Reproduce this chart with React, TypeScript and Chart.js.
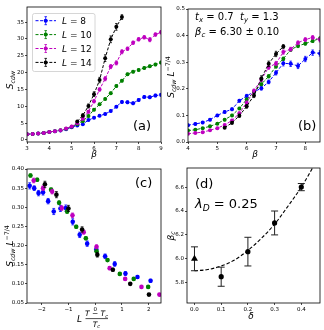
import React, { useEffect, useRef } from "react";
import { Chart, registerables } from "chart.js";
Chart.register(...registerables);

const W = 324;
const H = 330;
const FF = '"DejaVu Sans", "Liberation Sans", sans-serif';

const C_BLUE = "#0000ff";
const C_GREEN = "#008000";
const C_MAG = "#bf00bf";
const C_BLACK = "#000000";

// ---------- panel (a): S_cdw vs beta ----------
const BETA = [3, 3.25, 3.5, 3.75, 4, 4.25, 4.5, 4.75, 5, 5.25, 5.5, 5.75, 6, 6.25, 6.5, 6.75, 7, 7.25, 7.5, 7.75, 8, 8.25, 8.5, 8.75, 9];
const S_L8 = [1.7, 1.8, 1.95, 2.1, 2.4, 2.6, 2.8, 3.2, 3.8, 4.3, 4.7, 5.9, 6.6, 7.2, 7.7, 8.6, 9.9, 11.3, 11.2, 10.9, 11.9, 12.8, 12.7, 13.2, 13.4];
const E_L8 = [0.1, 0.1, 0.1, 0.1, 0.1, 0.1, 0.1, 0.15, 0.15, 0.2, 0.2, 0.2, 0.25, 0.25, 0.3, 0.3, 0.3, 0.4, 0.4, 0.4, 0.4, 0.4, 0.4, 0.4, 0.4];
const S_L10 = [1.7, 1.8, 1.95, 2.1, 2.4, 2.6, 2.9, 3.3, 3.9, 4.7, 5.6, 7.1, 9.0, 10.6, 12.2, 13.9, 16.0, 17.6, 19.5, 20.3, 20.8, 21.4, 21.9, 22.4, 23.0];
const E_L10 = [0.1, 0.1, 0.1, 0.1, 0.1, 0.1, 0.1, 0.15, 0.15, 0.2, 0.2, 0.25, 0.3, 0.3, 0.3, 0.35, 0.35, 0.35, 0.35, 0.35, 0.35, 0.35, 0.35, 0.35, 0.35];
const S_L12 = [1.7, 1.8, 1.95, 2.1, 2.4, 2.6, 2.9, 3.4, 4.0, 5.0, 6.3, 8.4, 11.5, 15.0, 18.2, 21.8, 22.9, 26.2, 27.1, 28.9, 29.9, 30.5, 29.8, 31.3, 32.0];
const E_L12 = [0.1, 0.1, 0.1, 0.1, 0.1, 0.1, 0.1, 0.15, 0.2, 0.25, 0.3, 0.4, 0.5, 0.5, 0.6, 0.6, 0.6, 0.6, 0.5, 0.5, 0.5, 0.5, 0.6, 0.5, 0.5];
const BETA_L14 = [5.25, 5.5, 5.75, 6, 6.25, 6.5, 6.75, 7, 7.25];
const S_L14 = [5.5, 7.3, 10.1, 13.6, 17.8, 24.3, 29.9, 33.6, 36.5];
const E_L14 = [0.3, 0.5, 0.6, 0.7, 0.8, 1.0, 1.0, 1.0, 0.7];

// ---------- panel (b): S_cdw L^{-7/4} vs beta ----------
const BETA_B = [4, 4.25, 4.5, 4.75, 5, 5.25, 5.5, 5.75, 6, 6.25, 6.5, 6.75, 7, 7.25, 7.5, 7.75, 8, 8.25, 8.5, 8.75];
const B_L8 = [0.063, 0.068, 0.073, 0.084, 0.1, 0.113, 0.123, 0.155, 0.173, 0.189, 0.202, 0.226, 0.26, 0.296, 0.294, 0.286, 0.312, 0.336, 0.333, 0.346];
const BE_L8 = [0.004, 0.004, 0.004, 0.004, 0.004, 0.005, 0.005, 0.005, 0.006, 0.006, 0.007, 0.007, 0.008, 0.01, 0.01, 0.01, 0.01, 0.01, 0.01, 0.01];
const B_L10 = [0.043, 0.046, 0.052, 0.059, 0.069, 0.084, 0.1, 0.126, 0.16, 0.188, 0.217, 0.247, 0.284, 0.313, 0.347, 0.361, 0.37, 0.38, 0.389, 0.398];
const BE_L10 = [0.002, 0.002, 0.002, 0.003, 0.003, 0.004, 0.004, 0.004, 0.005, 0.005, 0.005, 0.006, 0.006, 0.006, 0.006, 0.006, 0.006, 0.006, 0.006, 0.006];
const B_L12 = [0.031, 0.034, 0.037, 0.044, 0.052, 0.064, 0.081, 0.108, 0.148, 0.193, 0.235, 0.281, 0.295, 0.338, 0.349, 0.373, 0.385, 0.393, 0.384, 0.403];
const BE_L12 = [0.002, 0.002, 0.002, 0.002, 0.003, 0.003, 0.004, 0.005, 0.006, 0.006, 0.008, 0.008, 0.008, 0.008, 0.007, 0.007, 0.007, 0.007, 0.008, 0.007];
const B_L14 = [0.054, 0.072, 0.099, 0.134, 0.175, 0.239, 0.294, 0.331, 0.359];
const BE_L14 = [0.003, 0.005, 0.006, 0.007, 0.008, 0.01, 0.01, 0.01, 0.007];

// ---------- panel (c): scaling collapse ----------
const CX_L8 = [-2.45, -2.28, -2.12, -1.95, -1.76, -1.55, -1.3, -1.1, -0.84, -0.58, -0.3, 0.04, 0.37, 0.73, 1.13, 1.58, 2.07];
const CY_L8 = [0.356, 0.35, 0.337, 0.339, 0.316, 0.289, 0.297, 0.298, 0.262, 0.228, 0.205, 0.19, 0.172, 0.152, 0.127, 0.118, 0.108];
const CE_L8 = [0.008, 0.006, 0.007, 0.007, 0.007, 0.008, 0.008, 0.008, 0.008, 0.007, 0.007, 0.006, 0.006, 0.006, 0.005, 0.004, 0.004];
const CX_L10 = [-2.42, -2.17, -1.65, -1.35, -1.05, -0.71, -0.35, 0.05, 0.46, 0.92, 1.44, 1.98];
const CY_L10 = [0.383, 0.372, 0.346, 0.312, 0.289, 0.249, 0.219, 0.185, 0.162, 0.126, 0.113, 0.092];
const CE_L10 = [0.004, 0.004, 0.004, 0.005, 0.005, 0.004, 0.004, 0.004, 0.003, 0.003, 0.003, 0.003];
const CX_L12 = [-2.3, -1.95, -1.61, -1.25, -0.85, -0.43, 0.05, 0.54, 1.12, 1.73, 2.4];
const CY_L12 = [0.37, 0.35, 0.341, 0.298, 0.279, 0.235, 0.197, 0.141, 0.113, 0.092, 0.072];
const CE_L12 = [0.006, 0.006, 0.006, 0.006, 0.006, 0.005, 0.005, 0.004, 0.003, 0.003, 0.003];
const CX_L14 = [-1.88, -1.45, -1.0, -0.49, 0.08, 0.66, 1.31, 2.01];
const CY_L14 = [0.36, 0.333, 0.297, 0.242, 0.176, 0.137, 0.1, 0.072];
const CE_L14 = [0.008, 0.008, 0.008, 0.007, 0.006, 0.004, 0.003, 0.003];

// ---------- panel (d): beta_c vs delta ----------
const D_DELTA = [0.1, 0.2, 0.3, 0.4];
const D_BETAC = [5.85, 6.06, 6.3, 6.6];
const D_ERR = [0.08, 0.12, 0.1, 0.03];
const D0_DELTA = [0.0];
const D0_BETAC = [6.0];
const D0_ERR = [0.1];
const FIT_DELTA = [0, 0.05, 0.1, 0.15, 0.2, 0.25, 0.3, 0.35, 0.4, 0.45];
const FIT_BETAC = [5.9, 5.91, 5.94, 5.99, 6.07, 6.17, 6.29, 6.44, 6.6, 6.79];

// ---------- ticks ----------
const A_XTICKS = [3, 4, 5, 6, 7, 8, 9];
const A_YTICKS = [0, 5, 10, 15, 20, 25, 30, 35];
const B_XTICKS = [4, 5, 6, 7, 8];
const B_YTICKS = [0, 0.1, 0.2, 0.3, 0.4, 0.5];
const C_XTICKS = [-2, -1, 0, 1, 2];
const C_YTICKS = [0.05, 0.1, 0.15, 0.2, 0.25, 0.3, 0.35, 0.4];
const D_XTICKS = [0, 0.1, 0.2, 0.3, 0.4];
const D_YTICKS = [5.8, 6.0, 6.2, 6.4, 6.6];

const LEGEND_L = ["8", "10", "12", "14"];
const LEGEND_COLORS = [C_BLUE, C_GREEN, C_MAG, C_BLACK];

type Box = { l: number; t: number; r: number; b: number };
type Seg = { t: string; it?: boolean; sub?: boolean; sup?: boolean };

const minusFmt = (s: string) => s.replace("-", "\u2212");

function segFont(s: Seg, size: number) {
  const fs = s.sub || s.sup ? size * 0.7 : size;
  return `${s.it ? "italic " : ""}${fs}px ${FF}`;
}
function richW(ctx: CanvasRenderingContext2D, segs: Seg[], size: number) {
  let w = 0;
  for (const s of segs) {
    ctx.font = segFont(s, size);
    w += ctx.measureText(s.t).width;
  }
  return w;
}
function drawRich(ctx: CanvasRenderingContext2D, segs: Seg[], x: number, y: number, size: number, align: "left" | "center" = "left") {
  let cx = align === "center" ? x - richW(ctx, segs, size) / 2 : x;
  ctx.textAlign = "left";
  ctx.textBaseline = "alphabetic";
  ctx.fillStyle = "#000";
  for (const s of segs) {
    ctx.font = segFont(s, size);
    const dy = s.sub ? size * 0.22 : s.sup ? -size * 0.42 : 0;
    ctx.fillText(s.t, cx, y + dy);
    cx += ctx.measureText(s.t).width;
  }
}
function drawRotated(ctx: CanvasRenderingContext2D, segs: Seg[], x: number, y: number, size: number) {
  ctx.save();
  ctx.translate(x, y);
  ctx.rotate(-Math.PI / 2);
  drawRich(ctx, segs, 0, 0, size, "center");
  ctx.restore();
}
function drawFrame(chart: any) {
  const a = chart.chartArea;
  const ctx = chart.ctx;
  ctx.save();
  ctx.strokeStyle = "#000";
  ctx.lineWidth = 0.8;
  ctx.strokeRect(a.left, a.top, a.right - a.left, a.bottom - a.top);
  ctx.restore();
}

const errPlugin = {
  id: "errbars",
  beforeDatasetDraw(chart: any, args: any) {
    const ds = chart.data.datasets[args.index] as any;
    if (!ds.errY) return;
    const meta = args.meta;
    const ys = chart.scales.y;
    const ctx = chart.ctx;
    const a = chart.chartArea;
    ctx.save();
    ctx.beginPath();
    ctx.rect(a.left, a.top, a.right - a.left, a.bottom - a.top);
    ctx.clip();
    ctx.strokeStyle = ds.errColor || ds.borderColor;
    ctx.lineWidth = ds.errWidth || 0.8;
    const cap = ds.capHalf ?? 1.3;
    meta.data.forEach((el: any, j: number) => {
      const e = ds.errY[j];
      if (!e) return;
      const v = ds.data[j].y;
      const x = el.x;
      const y1 = ys.getPixelForValue(v - e);
      const y2 = ys.getPixelForValue(v + e);
      ctx.beginPath();
      ctx.moveTo(x, y1);
      ctx.lineTo(x, y2);
      ctx.moveTo(x - cap, y1);
      ctx.lineTo(x + cap, y1);
      ctx.moveTo(x - cap, y2);
      ctx.lineTo(x + cap, y2);
      ctx.stroke();
    });
    ctx.restore();
  },
};

function axis(min: number, max: number, ticks: number[], fmt: (v: number) => string, horizontal: boolean, box: Box) {
  return {
    type: "linear",
    position: horizontal ? "bottom" : "left",
    min,
    max,
    afterBuildTicks: (s: any) => {
      s.ticks = ticks.map((v) => ({ value: v }));
    },
    afterFit: (s: any) => {
      if (horizontal) s.height = H - box.b;
      else s.width = box.l;
    },
    ticks: {
      autoSkip: false,
      maxRotation: 0,
      minRotation: 0,
      padding: 1,
      color: "#000",
      font: { family: FF, size: 5.5 },
      callback: (v: any) => fmt(Number(v)),
    },
    grid: { display: true, drawOnChartArea: false, drawTicks: true, tickLength: 2, color: "#000", lineWidth: 0.7 },
    border: { display: false },
    title: { display: false },
  };
}

function pts(xs: number[], ys: number[]) {
  return xs.map((x, i) => ({ x, y: ys[i] }));
}

function lineDs(xs: number[], ys: number[], errs: number[], color: string, order: number) {
  return {
    type: "line",
    data: pts(xs, ys),
    errY: errs,
    borderColor: color,
    backgroundColor: color,
    borderWidth: 1,
    borderDash: [3, 1.6],
    pointRadius: 2,
    pointBorderWidth: 0,
    pointBackgroundColor: color,
    tension: 0,
    order,
    capHalf: 1.2,
    errWidth: 0.8,
  };
}
function dotDs(xs: number[], ys: number[], errs: number[], color: string, order: number) {
  return {
    type: "scatter",
    data: pts(xs, ys),
    errY: errs,
    borderColor: color,
    backgroundColor: color,
    pointRadius: 2.3,
    pointBorderWidth: 0,
    showLine: false,
    order,
    capHalf: 1.4,
    errWidth: 0.8,
  };
}

function makeChart(canvas: HTMLCanvasElement, box: Box, xs: any, ys: any, datasets: any[], extra: (chart: any) => void) {
  return new Chart(canvas, {
    type: "line",
    data: { datasets },
    options: {
      animation: false,
      responsive: false,
      devicePixelRatio: 1,
      layout: { padding: { left: 0, top: box.t, right: W - box.r, bottom: 0 } },
      scales: { x: xs, y: ys },
      plugins: { legend: { display: false }, tooltip: { enabled: false } },
    } as any,
    plugins: [
      errPlugin as any,
      {
        id: "extra",
        afterDraw(chart: any) {
          drawFrame(chart);
          extra(chart);
        },
      } as any,
    ],
  } as any);
}

const fmtInt = (v: number) => minusFmt(String(Math.round(v)));
const fmt1 = (v: number) => minusFmt(v.toFixed(1));
const fmt2 = (v: number) => v.toFixed(2);

const BOX_A: Box = { l: 27, t: 7, r: 161, b: 142 };
const BOX_B: Box = { l: 188, t: 9, r: 322, b: 142 };
const BOX_C: Box = { l: 27, t: 169, r: 161, b: 303 };
const BOX_D: Box = { l: 187, t: 168, r: 322, b: 303 };

const SCDW: Seg[] = [{ t: "S", it: true }, { t: "cdw", it: true, sub: true }];
const SCDW_L: Seg[] = [...SCDW, { t: " " }, { t: "L", it: true }, { t: "\u22127/4", sup: true }];

function buildA(canvas: HTMLCanvasElement) {
  const ds = [
    lineDs(BETA, S_L8, E_L8, C_BLUE, 4),
    lineDs(BETA, S_L10, E_L10, C_GREEN, 3),
    lineDs(BETA, S_L12, E_L12, C_MAG, 2),
    lineDs(BETA_L14, S_L14, E_L14, C_BLACK, 1),
  ];
  return makeChart(canvas, BOX_A, axis(3, 9, A_XTICKS, fmtInt, true, BOX_A), axis(-0.6, 39.5, A_YTICKS, fmtInt, false, BOX_A), ds, (chart) => {
    const ctx = chart.ctx as CanvasRenderingContext2D;
    ctx.save();
    // legend
    const lx = 32.5, ly = 13.5, lw = 62.5, lh = 58;
    ctx.beginPath();
    (ctx as any).roundRect(lx, ly, lw, lh, 2);
    ctx.fillStyle = "rgba(255,255,255,0.8)";
    ctx.fill();
    ctx.strokeStyle = "#cccccc";
    ctx.lineWidth = 0.8;
    ctx.stroke();
    LEGEND_L.forEach((lbl, i) => {
      const cy = 20.7 + i * 13.9;
      const col = LEGEND_COLORS[i];
      ctx.strokeStyle = col;
      ctx.fillStyle = col;
      ctx.lineWidth = 1;
      ctx.setLineDash([3, 1.6]);
      ctx.beginPath();
      ctx.moveTo(35.5, cy);
      ctx.lineTo(56, cy);
      ctx.stroke();
      ctx.setLineDash([]);
      ctx.lineWidth = 0.8;
      ctx.beginPath();
      ctx.moveTo(45.7, cy - 4);
      ctx.lineTo(45.7, cy + 4);
      ctx.moveTo(44.4, cy - 4);
      ctx.lineTo(47, cy - 4);
      ctx.moveTo(44.4, cy + 4);
      ctx.lineTo(47, cy + 4);
      ctx.stroke();
      ctx.beginPath();
      ctx.arc(45.7, cy, 2, 0, Math.PI * 2);
      ctx.fill();
      drawRich(ctx, [{ t: "L", it: true }, { t: " = " + lbl }], 62, cy + 3.3, 9);
    });
    drawRich(ctx, [{ t: "(a)" }], 133, 129.5, 13);
    drawRich(ctx, [{ t: "\u03B2", it: true }], 94, 157, 9, "center");
    drawRotated(ctx, SCDW, 13, 80, 9);
    ctx.restore();
  });
}

function buildB(canvas: HTMLCanvasElement) {
  const ds = [
    lineDs(BETA_B, B_L8, BE_L8, C_BLUE, 4),
    lineDs(BETA_B, B_L10, BE_L10, C_GREEN, 3),
    lineDs(BETA_B, B_L12, BE_L12, C_MAG, 2),
    lineDs(BETA_L14, B_L14, BE_L14, C_BLACK, 1),
  ];
  return makeChart(canvas, BOX_B, axis(4, 8.5, B_XTICKS, fmtInt, true, BOX_B), axis(0, 0.5, B_YTICKS, fmt1, false, BOX_B), ds, (chart) => {
    const ctx = chart.ctx as CanvasRenderingContext2D;
    ctx.save();
    drawRich(ctx, [{ t: "t", it: true }, { t: "x", it: true, sub: true }, { t: " = 0.7" }], 195, 20, 10);
    drawRich(ctx, [{ t: "t", it: true }, { t: "y", it: true, sub: true }, { t: " = 1.3" }], 240, 20, 10);
    drawRich(ctx, [{ t: "\u03B2", it: true }, { t: "c", it: true, sub: true }, { t: " = 6.30 \u00B1 0.10" }], 195, 35, 10);
    drawRich(ctx, [{ t: "(b)" }], 298, 129.5, 13);
    drawRich(ctx, [{ t: "\u03B2", it: true }], 255, 157, 9, "center");
    drawRotated(ctx, SCDW_L, 174, 77, 9);
    ctx.restore();
  });
}

function buildC(canvas: HTMLCanvasElement) {
  const ds = [
    dotDs(CX_L8, CY_L8, CE_L8, C_BLUE, 4),
    dotDs(CX_L10, CY_L10, CE_L10, C_GREEN, 3),
    dotDs(CX_L12, CY_L12, CE_L12, C_MAG, 2),
    dotDs(CX_L14, CY_L14, CE_L14, C_BLACK, 1),
  ];
  return makeChart(canvas, BOX_C, axis(-2.55, 2.46, C_XTICKS, fmtInt, true, BOX_C), axis(0.05, 0.4, C_YTICKS, fmt2, false, BOX_C), ds, (chart) => {
    const ctx = chart.ctx as CanvasRenderingContext2D;
    ctx.save();
    drawRich(ctx, [{ t: "(c)" }], 135, 186.5, 13);
    drawRotated(ctx, SCDW_L, 13, 246, 9);
    // x label: L (T - T_c)/T_c
    drawRich(ctx, [{ t: "L", it: true }], 77, 321.5, 9);
    drawRich(ctx, [{ t: "T", it: true }, { t: " \u2212 " }, { t: "T", it: true }, { t: "c", it: true, sub: true }], 96.5, 316.3, 7.5, "center");
    ctx.strokeStyle = "#000";
    ctx.lineWidth = 0.7;
    ctx.beginPath();
    ctx.moveTo(85.5, 318.6);
    ctx.lineTo(108, 318.6);
    ctx.stroke();
    drawRich(ctx, [{ t: "T", it: true }, { t: "c", it: true, sub: true }], 96.5, 326.5, 7.5, "center");
    ctx.restore();
  });
}

function buildD(canvas: HTMLCanvasElement) {
  const ds = [
    {
      type: "line",
      data: pts(FIT_DELTA, FIT_BETAC),
      borderColor: "#000",
      borderWidth: 1.1,
      borderDash: [3.5, 2],
      pointRadius: 0,
      cubicInterpolationMode: "monotone",
      order: 3,
    },
    {
      type: "scatter",
      data: pts(D_DELTA, D_BETAC),
      errY: D_ERR,
      errColor: "#222",
      errWidth: 1,
      capHalf: 3.5,
      backgroundColor: "#000",
      borderColor: "#000",
      pointRadius: 2.6,
      pointBorderWidth: 0,
      showLine: false,
      order: 2,
    },
    {
      type: "scatter",
      data: pts(D0_DELTA, D0_BETAC),
      errY: D0_ERR,
      errColor: "#222",
      errWidth: 1,
      capHalf: 3.5,
      backgroundColor: "#000",
      borderColor: "#000",
      pointStyle: "triangle",
      pointRadius: 4,
      pointBorderWidth: 0,
      showLine: false,
      order: 1,
    },
  ];
  return makeChart(canvas, BOX_D, axis(-0.028, 0.47, D_XTICKS, fmt1, true, BOX_D), axis(5.63, 6.76, D_YTICKS, fmt1, false, BOX_D), ds, (chart) => {
    const ctx = chart.ctx as CanvasRenderingContext2D;
    ctx.save();
    drawRich(ctx, [{ t: "(d)" }], 195, 188, 13);
    drawRich(ctx, [{ t: "\u03BB", it: true }, { t: "D", it: true, sub: true }, { t: " = 0.25" }], 195, 208, 13);
    drawRich(ctx, [{ t: "\u03B4", it: true }], 251, 318.5, 9, "center");
    drawRotated(ctx, [{ t: "\u03B2", it: true }, { t: "c", it: true, sub: true }], 173.5, 236, 9);
    ctx.restore();
  });
}

export default function App() {
  const refA = useRef<HTMLCanvasElement>(null);
  const refB = useRef<HTMLCanvasElement>(null);
  const refC = useRef<HTMLCanvasElement>(null);
  const refD = useRef<HTMLCanvasElement>(null);
  useEffect(() => {
    const charts = [buildA(refA.current!), buildB(refB.current!), buildC(refC.current!), buildD(refD.current!)];
    return () => charts.forEach((c) => c.destroy());
  }, []);
  const cs: React.CSSProperties = { position: "absolute", left: 0, top: 0, width: W, height: H };
  return (
    <div style={{ position: "fixed", left: 0, top: 0, width: W, height: H, background: "#fff", overflow: "hidden" }}>
      <canvas ref={refA} width={W} height={H} style={cs} />
      <canvas ref={refB} width={W} height={H} style={cs} />
      <canvas ref={refC} width={W} height={H} style={cs} />
      <canvas ref={refD} width={W} height={H} style={cs} />
    </div>
  );
}
